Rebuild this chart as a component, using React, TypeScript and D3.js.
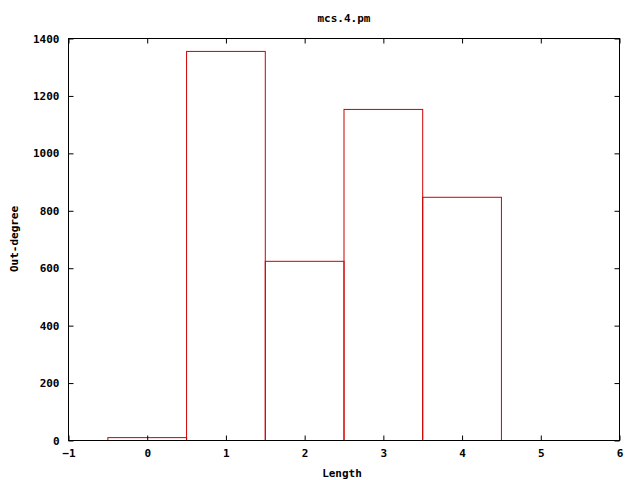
import { useRef, useEffect } from 'react';
import * as d3 from 'd3';

// histogram bins (centre of bin) and counts
const lengths = [0, 1, 2, 3, 4];
const outDegree = [10, 1355, 624, 1153, 847];
const xTicks = [-1, 0, 1, 2, 3, 4, 5, 6];
const yTicks = [0, 200, 400, 600, 800, 1000, 1200, 1400];

const width = 640;
const height = 480;
const marginLeft = 68.5;
const marginRight = 20.5;
const marginTop = 38.5;
const marginBottom = 39.5;

const font = '"DejaVu Sans Mono", "Liberation Mono", monospace';

const App = () => {
  const axesRef = useRef<SVGGElement>(null);

  const x = d3.scaleLinear().domain([-1, 6]).range([marginLeft, width - marginRight]);
  const y = d3.scaleLinear().domain([0, 1400]).range([height - marginBottom, marginTop]);

  useEffect(() => {
    const g = d3.select(axesRef.current);
    g.selectAll('*').remove();

    const style = (sel: any) => {
      sel.select('.domain').remove();
      sel.selectAll('line').attr('stroke', '#000');
      sel.selectAll('text')
        .attr('font-family', font)
        .attr('font-weight', 'bold')
        .attr('font-size', 11)
        .attr('fill', '#000');
    };

    // bottom
    g.append('g')
      .attr('transform', `translate(0, ${y(0)})`)
      .call(d3.axisBottom(x).tickValues(xTicks).tickFormat(d3.format('d')).tickSize(-5).tickPadding(9))
      .call(style);
    // top (mirror ticks)
    g.append('g')
      .attr('transform', `translate(0, ${y(1400)})`)
      .call(d3.axisTop(x).tickValues(xTicks).tickFormat(() => '').tickSize(-5))
      .call(style);
    // left
    g.append('g')
      .attr('transform', `translate(${x(-1)}, 0)`)
      .call(d3.axisLeft(y).tickValues(yTicks).tickFormat(d3.format('d')).tickSize(-5).tickPadding(9))
      .call(style);
    // right
    g.append('g')
      .attr('transform', `translate(${x(6)}, 0)`)
      .call(d3.axisRight(y).tickValues(yTicks).tickFormat(() => '').tickSize(-5))
      .call(style);

    // frame
    g.append('rect')
      .attr('x', x(-1))
      .attr('y', y(1400))
      .attr('width', x(6) - x(-1))
      .attr('height', y(0) - y(1400))
      .attr('fill', 'none')
      .attr('stroke', '#000');
  }, []);

  return (
    <svg width={width} height={height} style={{ display: 'block', position: 'absolute', left: 0, top: 0 }}>
      <rect width={width} height={height} fill="#fff" />
      <g>
        {lengths.map((d, i) => (
          <rect
            key={i}
            x={x(d - 0.5)}
            y={y(outDegree[i])}
            width={x(d + 0.5) - x(d - 0.5)}
            height={y(0) - y(outDegree[i])}
            fill="none"
            stroke="#d00000"
          />
        ))}
      </g>
      <g ref={axesRef} />
      <text x={344} y={22} textAnchor="middle" fontFamily={font} fontWeight="bold" fontSize={11}>mcs.4.pm</text>
      <text x={342} y={477} textAnchor="middle" fontFamily={font} fontWeight="bold" fontSize={11}>Length</text>
      <text
        transform="translate(18, 239) rotate(-90)"
        textAnchor="middle"
        fontFamily={font}
        fontWeight="bold"
        fontSize={11}
      >Out-degree</text>
    </svg>
  );
};

export default App;
